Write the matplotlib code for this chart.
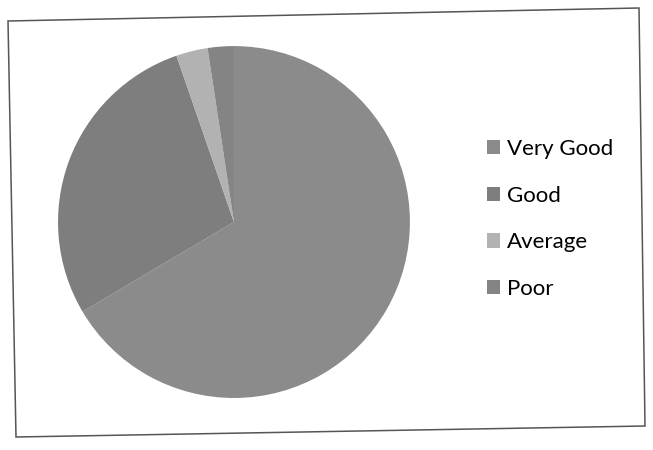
import matplotlib.pyplot as plt
from matplotlib.patches import Polygon, Patch

# Data (approximate shares)
labels = ["Very Good", "Good", "Average", "Poor"]
values = [66.5, 28.2, 2.9, 2.4]
colors = ["#8b8b8b", "#7e7e7e", "#b2b2b2", "#848484"]

W, H = 653, 450
fig = plt.figure(figsize=(W / 100, H / 100), dpi=100)
fig.patch.set_facecolor("white")

# outer frame of the chart (scan is slightly skewed), corners in pixels
frame_px = [(8, 21), (639, 8), (645, 426), (16, 437)]
frame = [(x / W, 1 - y / H) for x, y in frame_px]
fig.patches.append(Polygon(frame, closed=True, transform=fig.transFigure,
                           fill=False, edgecolor="#555555", linewidth=1.1))

ax = fig.add_axes([0.0888, 0.1156, 0.539, 0.782])
ax.pie(values, colors=colors, startangle=90, counterclock=False,
       wedgeprops=dict(edgecolor="none"))
ax.set_xlim(-1, 1)
ax.set_ylim(-1, 1)
ax.set_aspect("equal")
ax.axis("off")

handles = [Patch(facecolor=c, edgecolor="none") for c in colors]
fig.legend(handles, labels, loc="upper left",
           bbox_to_anchor=(467 / W, (H - 119) / H),
           frameon=False, prop={"family": "Lato", "size": 16},
           handlelength=0.6, handleheight=0.6, handletextpad=0.3,
           labelspacing=1.2)

fig.savefig("out.png", dpi=100)
